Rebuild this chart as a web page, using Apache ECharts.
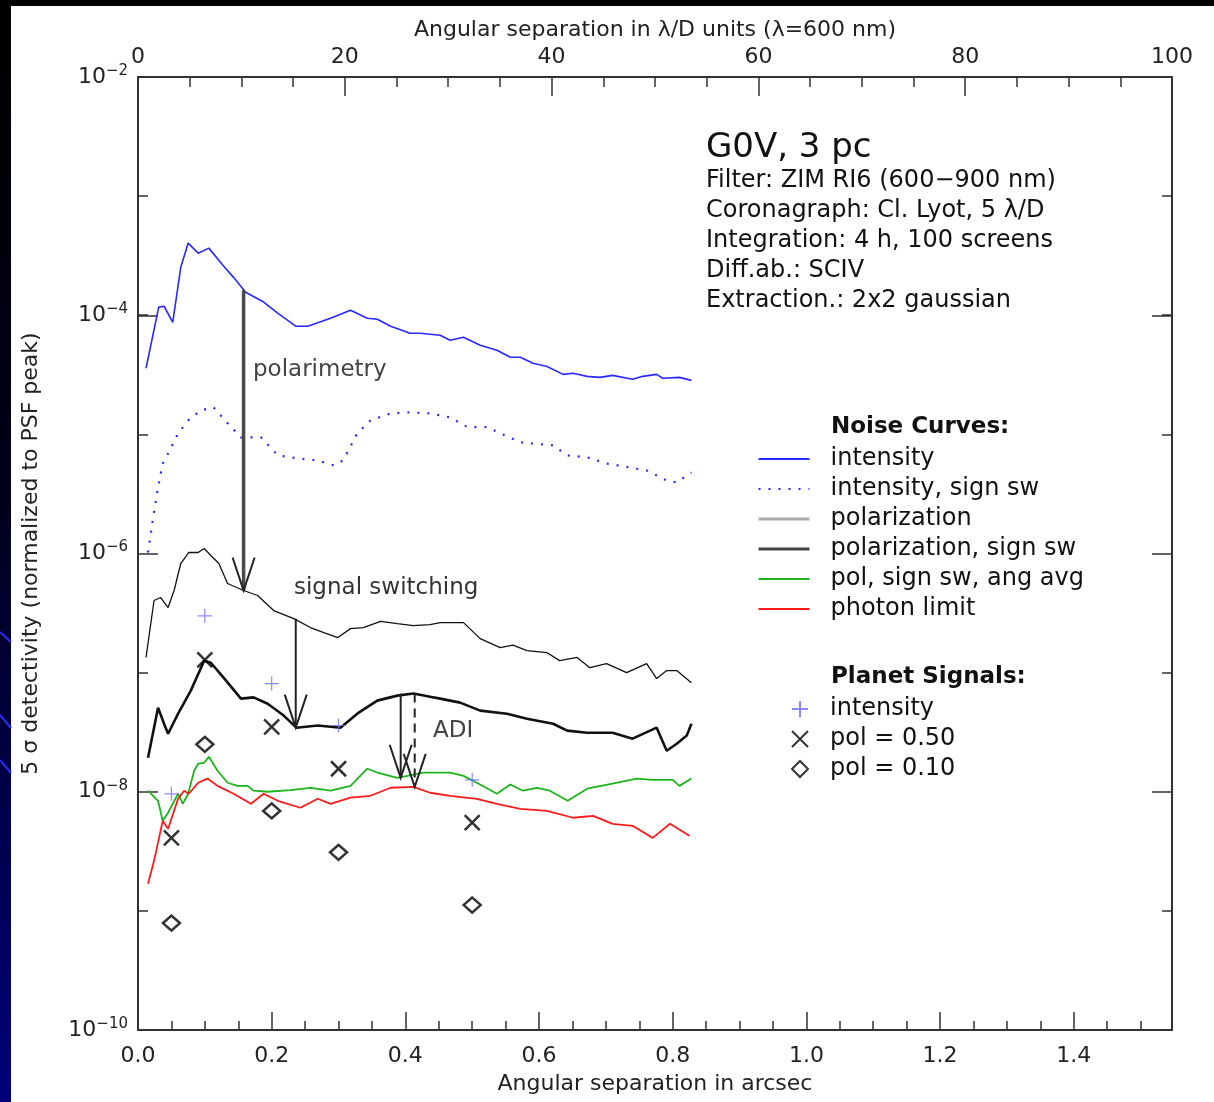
<!DOCTYPE html>
<html>
<head>
<meta charset="utf-8">
<title>G0V detectivity</title>
<script src="https://cdn.jsdelivr.net/npm/echarts@6/dist/echarts.min.js"></script>
<style>
html, body { margin: 0; padding: 0; background: #000; }
#main { width: 1214px; height: 1102px; }
</style>
</head>
<body>
<div id="main"></div>
<script>
// noise curves (x in arcsec, y = 5 sigma detectivity)
var intX = [0.012, 0.031, 0.039, 0.052, 0.064, 0.075, 0.090, 0.106, 0.127, 0.143, 0.161, 0.188, 0.209, 0.236, 0.254, 0.288, 0.318, 0.343, 0.358, 0.378, 0.407, 0.422, 0.452, 0.467, 0.487, 0.512, 0.537, 0.557, 0.572, 0.591, 0.612, 0.636, 0.651, 0.672, 0.691, 0.710, 0.740, 0.755, 0.776, 0.785, 0.810, 0.828];
var intY = [3.59e-5, 1.17e-4, 1.19e-4, 8.73e-5, 2.53e-4, 4.03e-4, 3.32e-4, 3.66e-4, 2.63e-4, 2.08e-4, 1.56e-4, 1.29e-4, 1.04e-4, 8.09e-5, 8.09e-5, 9.44e-5, 1.10e-4, 9.44e-5, 9.25e-5, 8.09e-5, 7.06e-5, 7.06e-5, 6.79e-5, 6.17e-5, 6.53e-5, 5.60e-5, 5.08e-5, 4.44e-5, 4.44e-5, 3.95e-5, 3.72e-5, 3.19e-5, 3.26e-5, 3.07e-5, 3.01e-5, 3.13e-5, 2.90e-5, 3.07e-5, 3.19e-5, 2.96e-5, 3.01e-5, 2.84e-5];

var intSwX = [0.015, 0.022, 0.030, 0.037, 0.045, 0.060, 0.075, 0.094, 0.113, 0.134, 0.154, 0.184, 0.209, 0.239, 0.269, 0.293, 0.307, 0.328, 0.348, 0.378, 0.407, 0.437, 0.467, 0.493, 0.522, 0.572, 0.621, 0.642, 0.672, 0.701, 0.761, 0.791, 0.806, 0.828];
var intSwY = [1.02e-6, 1.89e-6, 3.59e-6, 5.70e-6, 6.92e-6, 1.02e-5, 1.31e-5, 1.59e-5, 1.69e-5, 1.24e-5, 9.44e-6, 9.44e-6, 6.67e-6, 6.28e-6, 6.05e-6, 5.48e-6, 6.05e-6, 1.02e-5, 1.31e-5, 1.50e-5, 1.53e-5, 1.50e-5, 1.39e-5, 1.15e-5, 1.15e-5, 8.57e-6, 8.09e-6, 6.67e-6, 6.41e-6, 5.70e-6, 4.98e-6, 4.10e-6, 3.95e-6, 4.80e-6];

var polX = [0.012, 0.024, 0.034, 0.045, 0.054, 0.064, 0.076, 0.090, 0.099, 0.109, 0.121, 0.134, 0.158, 0.179, 0.203, 0.233, 0.258, 0.278, 0.299, 0.318, 0.337, 0.363, 0.388, 0.412, 0.437, 0.452, 0.487, 0.512, 0.542, 0.561, 0.582, 0.612, 0.631, 0.657, 0.676, 0.701, 0.731, 0.761, 0.776, 0.791, 0.806, 0.828];
var polY = [1.34e-7, 4.03e-7, 4.27e-7, 3.52e-7, 4.89e-7, 8.24e-7, 1.02e-6, 1.02e-6, 1.10e-6, 9.62e-7, 8.24e-7, 5.60e-7, 4.89e-7, 4.44e-7, 3.32e-7, 2.84e-7, 2.39e-7, 2.17e-7, 1.97e-7, 2.34e-7, 2.39e-7, 2.69e-7, 2.58e-7, 2.48e-7, 2.53e-7, 2.63e-7, 2.63e-7, 1.93e-7, 1.62e-7, 1.70e-7, 1.53e-7, 1.47e-7, 1.26e-7, 1.34e-7, 1.10e-7, 1.19e-7, 1.00e-7, 1.19e-7, 8.91e-8, 1.04e-7, 1.04e-7, 8.24e-8];

var polSwX = [0.015, 0.030, 0.039, 0.045, 0.060, 0.079, 0.099, 0.109, 0.128, 0.154, 0.173, 0.194, 0.218, 0.237, 0.269, 0.303, 0.328, 0.358, 0.388, 0.412, 0.437, 0.452, 0.482, 0.512, 0.552, 0.582, 0.621, 0.642, 0.672, 0.710, 0.740, 0.776, 0.791, 0.806, 0.821, 0.828];
var polSwY = [1.93e-8, 5.08e-8, 3.72e-8, 3.07e-8, 4.52e-8, 7.06e-8, 1.26e-7, 1.21e-7, 9.08e-8, 6.05e-8, 6.20e-8, 5.48e-8, 4.36e-8, 3.45e-8, 3.60e-8, 3.45e-8, 4.52e-8, 5.82e-8, 6.41e-8, 6.67e-8, 6.28e-8, 6.05e-8, 5.60e-8, 4.80e-8, 4.52e-8, 4.10e-8, 3.72e-8, 3.26e-8, 3.13e-8, 3.13e-8, 2.79e-8, 3.45e-8, 2.21e-8, 2.53e-8, 2.96e-8, 3.72e-8];

var avgX = [0.015, 0.030, 0.037, 0.045, 0.060, 0.067, 0.075, 0.084, 0.090, 0.099, 0.106, 0.119, 0.134, 0.149, 0.164, 0.173, 0.194, 0.228, 0.258, 0.288, 0.318, 0.343, 0.358, 0.388, 0.403, 0.427, 0.467, 0.487, 0.507, 0.537, 0.557, 0.576, 0.597, 0.616, 0.643, 0.672, 0.710, 0.746, 0.770, 0.800, 0.810, 0.828];
var avgY = [1.02e-8, 8.40e-9, 5.70e-9, 6.67e-9, 9.62e-9, 7.92e-9, 9.62e-9, 1.50e-8, 1.72e-8, 1.75e-8, 1.97e-8, 1.50e-8, 1.19e-8, 1.12e-8, 1.12e-8, 1.02e-8, 1.00e-8, 1.03e-8, 1.08e-8, 1.02e-8, 1.12e-8, 1.56e-8, 1.45e-8, 1.31e-8, 1.36e-8, 1.45e-8, 1.45e-8, 1.36e-8, 1.19e-8, 9.62e-9, 1.15e-8, 1.02e-8, 1.08e-8, 1.02e-8, 8.40e-9, 1.06e-8, 1.17e-8, 1.29e-8, 1.26e-8, 1.26e-8, 1.12e-8, 1.29e-8];

var photX = [0.015, 0.024, 0.037, 0.045, 0.054, 0.060, 0.069, 0.076, 0.090, 0.104, 0.119, 0.143, 0.169, 0.188, 0.209, 0.243, 0.269, 0.288, 0.318, 0.348, 0.378, 0.412, 0.437, 0.467, 0.507, 0.537, 0.572, 0.612, 0.651, 0.681, 0.710, 0.740, 0.770, 0.796, 0.825];
var photY = [1.69e-9, 2.63e-9, 5.70e-9, 4.89e-9, 6.92e-9, 8.73e-9, 1.02e-8, 9.62e-9, 1.19e-8, 1.29e-8, 1.12e-8, 9.62e-9, 7.92e-9, 9.62e-9, 8.40e-9, 7.34e-9, 8.73e-9, 7.92e-9, 8.91e-9, 9.25e-9, 1.08e-8, 1.10e-8, 9.81e-9, 9.25e-9, 8.73e-9, 7.92e-9, 7.19e-9, 6.92e-9, 6.05e-9, 6.28e-9, 5.38e-9, 5.18e-9, 4.10e-9, 5.38e-9, 4.27e-9];

// planet signals
var sigX = [0.05, 0.1, 0.2, 0.3, 0.5];
var sigInt = [9.6e-9, 3.0e-7, 8.1e-8, 3.6e-8, 1.26e-8];
var sigPol50 = [4.1e-9, 1.28e-7, 3.5e-8, 1.56e-8, 5.5e-9];
var sigPol10 = [7.9e-10, 2.5e-8, 6.9e-9, 3.1e-9, 1.12e-9];

// arrows: x, from, to, dashed, stem width
var arrows = [
  [0.158, 1.62e-4, 4.89e-7, 0, 3.5],
  [0.236, 2.84e-7, 3.45e-8, 0, 2],
  [0.393, 6.67e-8, 1.31e-8, 0, 2],
  [0.414, 6.67e-8, 1.10e-8, 1, 2]
];

// axis ticks
var yMajorExp = [-10, -8, -6, -4, -2];
var infoLines = ['Filter: ZIM RI6 (600\u2212900 nm)', 'Coronagraph: Cl. Lyot, 5 \u03bb/D', 'Integration: 4 h, 100 screens', 'Diff.ab.: SCIV', 'Extraction.: 2x2 gaussian'];

function zip(xs, ys) {
  var out = [];
  for (var i = 0; i < xs.length; i++) out.push([xs[i], ys[i]]);
  return out;
}

var FONT = 'DejaVu Sans';
var myChart = echarts.init(document.getElementById('main'));

function lineSeries(name, xs, ys, color, width, type) {
  return {
    name: name, type: 'line', symbol: 'none', xAxisIndex: 0, yAxisIndex: 0,
    data: zip(xs, ys), animation: false, z: 3,
    itemStyle: { color: color },
    lineStyle: { color: color, width: width, type: type || 'solid' }
  };
}

function renderArrow(params, api) {
  var top = api.coord([api.value(0), api.value(1)]);
  var tip = api.coord([api.value(0), api.value(2)]);
  var dashed = api.value(3) === 1;
  var w = api.value(4);
  return {
    type: 'group',
    children: [{
      type: 'line',
      shape: { x1: top[0], y1: top[1], x2: tip[0], y2: tip[1] },
      style: { stroke: w > 3 ? '#4a4a4a' : '#222', lineWidth: w, lineDash: dashed ? [9, 6] : null }
    }, {
      type: 'polyline',
      shape: { points: [[tip[0] - 11, tip[1] - 33], [tip[0], tip[1]], [tip[0] + 11, tip[1] - 33]] },
      style: { stroke: '#222', lineWidth: 2, fill: null }
    }]
  };
}

var tickStyle = { color: '#333', width: 1.5 };
var axLine = { show: true, onZero: false, lineStyle: { color: '#333', width: 2 } };
var noLine = { show: false, onZero: false };

var graphics = [
  { type: 'rect', z: -10, shape: { x: 11, y: 6, width: 1203, height: 1096 }, style: { fill: '#fff' } },
  { type: 'line', shape: { x1: 0, y1: 632, x2: 11, y2: 642 }, style: { stroke: '#2a2aff', lineWidth: 2 } },
  { type: 'line', shape: { x1: 0, y1: 715, x2: 11, y2: 728 }, style: { stroke: '#2a2aff', lineWidth: 2 } },
  { type: 'line', shape: { x1: 0, y1: 760, x2: 11, y2: 773 }, style: { stroke: '#2a2aff', lineWidth: 2 } },
  { type: 'text', x: 706, y: 148, style: { text: 'G0V, 3 pc', fontSize: 34, fontFamily: FONT, fill: '#111', verticalAlign: 'middle' } },
  { type: 'text', x: 831, y: 427, style: { text: 'Noise Curves:', fontSize: 23, fontWeight: 'bold', fontFamily: FONT, fill: '#111', verticalAlign: 'middle' } },
  { type: 'text', x: 831, y: 677, style: { text: 'Planet Signals:', fontSize: 23, fontWeight: 'bold', fontFamily: FONT, fill: '#111', verticalAlign: 'middle' } },
  { type: 'text', x: 253, y: 370, style: { text: 'polarimetry', fontSize: 23, fontFamily: FONT, fill: '#444', verticalAlign: 'middle' } },
  { type: 'text', x: 294, y: 588, style: { text: 'signal switching', fontSize: 23, fontFamily: FONT, fill: '#333', verticalAlign: 'middle' } },
  { type: 'text', x: 433, y: 731, style: { text: 'ADI', fontSize: 23, fontFamily: FONT, fill: '#444', verticalAlign: 'middle' } }
];
infoLines.forEach(function (t, i) {
  graphics.push({ type: 'text', x: 706, y: 181 + i * 30, style: { text: t, fontSize: 24, fontFamily: FONT, fill: '#111', verticalAlign: 'middle' } });
});

option = {
  backgroundColor: {
    type: 'linear', x: 0, y: 0, x2: 0, y2: 1,
    colorStops: [{ offset: 0, color: '#000' }, { offset: 0.45, color: '#00001a' }, { offset: 1, color: '#000078' }]
  },
  animation: false,
  grid: { left: 138, right: 42, top: 77, bottom: 72 },
  textStyle: { fontFamily: FONT },
  graphic: graphics,
  legend: [{
    orient: 'vertical', left: 752, top: 439, itemWidth: 51, itemHeight: 14, itemGap: 0,
    selectedMode: false,
    itemStyle: { opacity: 0 },
    textStyle: { fontSize: 24, fontFamily: FONT, color: '#111', lineHeight: 30, padding: [0, 0, 0, 16] },
    data: [
      { name: 'intensity' },
      { name: 'intensity, sign sw' },
      { name: 'polarization', lineStyle: { color: '#aaa', width: 3 } },
      { name: 'polarization, sign sw', lineStyle: { color: '#444', width: 3 } },
      { name: 'pol, sign sw, ang avg' },
      { name: 'photon limit' }
    ]
  }, {
    orient: 'vertical', left: 786, top: 689, itemWidth: 16, itemHeight: 16, itemGap: 0,
    selectedMode: false,
    formatter: function (n) { return n.trim(); },
    textStyle: { fontSize: 24, fontFamily: FONT, color: '#111', lineHeight: 30, padding: [0, 0, 0, 17] },
    data: ['intensity ', 'pol = 0.50', 'pol = 0.10']
  }],
  xAxis: [{
    type: 'value', position: 'bottom', min: 0, max: 1.547, interval: 0.2,
    axisLine: axLine, axisTick: { inside: true, length: 18, lineStyle: tickStyle },
    axisLabel: { margin: 15, fontSize: 22, color: '#222', showMaxLabel: false, formatter: function (v) { return v.toFixed(1); } },
    splitLine: { show: false },
    name: 'Angular separation in arcsec', nameLocation: 'middle', nameGap: 43,
    nameTextStyle: { fontSize: 22, color: '#222' }
  }, {
    type: 'value', position: 'bottom', min: 0, max: 1.547, interval: 0.05,
    axisLine: noLine, axisTick: { inside: true, length: 9, lineStyle: tickStyle },
    axisLabel: { show: false }, splitLine: { show: false }
  }, {
    type: 'value', position: 'top', min: 0, max: 100, interval: 20,
    axisLine: axLine, axisTick: { inside: true, length: 19, lineStyle: tickStyle },
    axisLabel: { margin: 9, fontSize: 22, color: '#222' },
    splitLine: { show: false },
    name: 'Angular separation in \u03bb/D units (\u03bb=600 nm)', nameLocation: 'middle', nameGap: 31,
    nameTextStyle: { fontSize: 22, color: '#222' }
  }, {
    type: 'value', position: 'top', min: 0, max: 100, interval: 5,
    axisLine: noLine, axisTick: { inside: true, length: 10, lineStyle: tickStyle },
    axisLabel: { show: false }, splitLine: { show: false }
  }],
  yAxis: [{
    type: 'log', logBase: 10, min: 1e-10, max: 1e-2, splitNumber: 8, position: 'left',
    axisLine: axLine, axisTick: { inside: true, length: 10, lineStyle: tickStyle },
    axisLabel: { show: false }, splitLine: { show: false },
    name: '5 \u03c3 detectivity (normalized to PSF peak)', nameLocation: 'middle', nameGap: 96,
    nameTextStyle: { fontSize: 22, color: '#222' }
  }, {
    type: 'value', min: yMajorExp[0], max: yMajorExp[yMajorExp.length - 1], interval: 2, position: 'left',
    axisLine: noLine, axisTick: { inside: true, length: 20, lineStyle: tickStyle },
    splitLine: { show: false },
    axisLabel: {
      margin: 10, color: '#222',
      formatter: function (v) { return '{b|10}{s|\u2212' + (-v) + '}'; },
      rich: {
        b: { fontSize: 22, fontFamily: FONT, color: '#222' },
        s: { fontSize: 15, fontFamily: FONT, color: '#222', padding: [0, 0, 12, 0] }
      }
    }
  }, {
    type: 'log', logBase: 10, min: 1e-10, max: 1e-2, splitNumber: 8, position: 'right',
    axisLine: axLine, axisTick: { inside: true, length: 10, lineStyle: tickStyle },
    axisLabel: { show: false }, splitLine: { show: false }
  }, {
    type: 'value', min: yMajorExp[0], max: yMajorExp[yMajorExp.length - 1], interval: 2, position: 'right',
    axisLine: noLine, axisTick: { inside: true, length: 20, lineStyle: tickStyle },
    axisLabel: { show: false }, splitLine: { show: false }
  }],
  series: [
    lineSeries('intensity', intX, intY, '#2828ff', 1.6),
    lineSeries('intensity, sign sw', intSwX, intSwY, '#2828ff', 2.2, [2, 8]),
    lineSeries('polarization', polX, polY, '#111', 1.3),
    lineSeries('polarization, sign sw', polSwX, polSwY, '#111', 2.6),
    lineSeries('pol, sign sw, ang avg', avgX, avgY, '#1db41d', 1.8),
    lineSeries('photon limit', photX, photY, '#ff1a1a', 1.8),
    {
      name: 'intensity ', type: 'scatter', data: zip(sigX, sigInt), z: 4,
      symbol: 'path://M0,5L10,5M5,0L5,10', symbolSize: 14,
      itemStyle: { color: 'transparent', borderColor: '#6b6bff', borderWidth: 1.2 }
    }, {
      name: 'pol = 0.50', type: 'scatter', data: zip(sigX, sigPol50), z: 4,
      symbol: 'path://M0,0L10,10M10,0L0,10', symbolSize: 15,
      itemStyle: { color: 'transparent', borderColor: '#000', borderWidth: 2.5 }
    }, {
      name: 'pol = 0.10', type: 'scatter', data: zip(sigX, sigPol10), z: 4,
      symbol: 'diamond', symbolSize: [17, 15],
      itemStyle: { color: 'transparent', borderColor: '#000', borderWidth: 2.5 }
    }, {
      name: 'arrows', type: 'custom', data: arrows, z: 5,
      encode: { x: 0, y: [1, 2] },
      renderItem: renderArrow
    }
  ]
};
myChart.setOption(option);
</script>
</body>
</html>
